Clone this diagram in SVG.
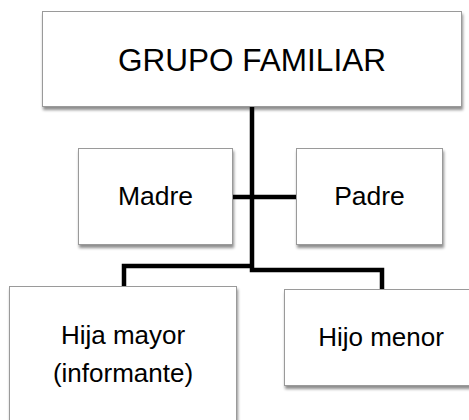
<svg xmlns="http://www.w3.org/2000/svg" width="469" height="420" viewBox="0 0 469 420">
<defs>
<filter id="sh" x="-10%" y="-10%" width="130%" height="130%">
<feGaussianBlur in="SourceAlpha" stdDeviation="1.5"/>
<feOffset dx="1" dy="3" result="b"/>
<feComponentTransfer><feFuncA type="linear" slope="0.45"/></feComponentTransfer>
<feMerge><feMergeNode/><feMergeNode in="SourceGraphic"/></feMerge>
</filter>
<style>
.box{fill:#fff;stroke:#9a9a9a;stroke-width:1;filter:url(#sh)}
.t{font-family:"Liberation Sans",Arial,sans-serif;fill:#000;text-anchor:middle}
.c{fill:none;stroke:#000;stroke-width:4.5;stroke-linejoin:miter}
</style>
</defs>
<rect width="469" height="420" fill="#fff"/>
<g id="connectors">
<path class="c" d="M252,107 V270 H382 V289"/>
<path class="c" d="M124,286 V266 H252"/>
<path class="c" d="M233,197 H296"/>
</g>
<g id="grupo">
<rect class="box" x="42.5" y="11.5" width="419" height="95"/>
<text class="t" x="252" y="71" font-size="31.5">GRUPO FAMILIAR</text>
</g>
<g id="madre">
<rect class="box" x="78.5" y="148.5" width="154" height="96"/>
<text class="t" x="155.5" y="205" font-size="26.5">Madre</text>
</g>
<g id="padre">
<rect class="box" x="296.5" y="148.5" width="146" height="96"/>
<text class="t" x="369.5" y="205" font-size="26.5">Padre</text>
</g>
<g id="hija">
<rect class="box" x="9.5" y="286.5" width="227" height="145"/>
<text class="t" x="123" y="344" font-size="26">Hija mayor</text>
<text class="t" x="123" y="382" font-size="26">(informante)</text>
</g>
<g id="hijo">
<rect class="box" x="284.5" y="289.5" width="194" height="96"/>
<text class="t" x="381" y="346" font-size="26">Hijo menor</text>
</g>
</svg>
